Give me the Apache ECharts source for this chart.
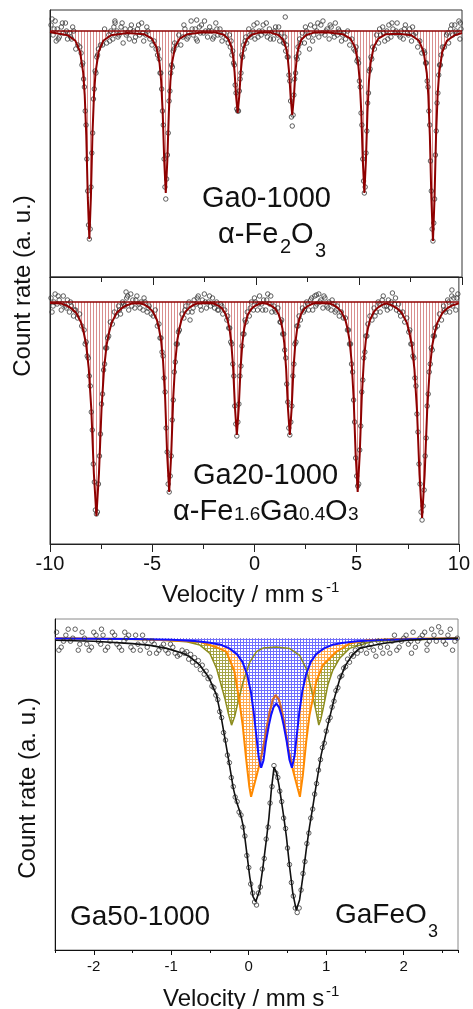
<!DOCTYPE html>
<html><head><meta charset="utf-8">
<script src="https://cdn.jsdelivr.net/npm/echarts@6/dist/echarts.min.js"></script>
<style>html,body{margin:0;padding:0;background:#fff}#c{width:473px;height:1009px}</style>
</head><body><div id="c"></div>
<script>
// ---------- Ga0-1000 (alpha-Fe2O3) : measured points [velocity, relative transmission %]
const ga0Data = [[-9.95,100.3],[-9.85,99.8],[-9.75,100.5],[-9.65,100.1],[-9.55,99.7],[-9.45,100.2],[-9.35,99.9],[-9.25,100.4],[-9.15,99.6],[-9.05,99.9],[-8.95,99.6],[-8.85,100.0],[-8.75,99.1],[-8.65,99.3],[-8.55,99.2],
[-8.49,98.9],[-8.45,98.3],[-8.41,98.4],[-8.37,97.6],[-8.33,97.2],[-8.29,96.0],[-8.25,95.3],[-8.21,93.6],[-8.17,92.0],[-8.13,90.3],[-8.09,89.6],[-8.05,90.1],[-8.01,92.2],[-7.97,93.9],[-7.93,94.9],[-7.89,96.6],[-7.85,97.1],[-7.81,98.0],[-7.77,97.9],[-7.73,98.7],[-7.69,98.8],
[-7.65,99.1],[-7.55,99.3],[-7.45,99.3],[-7.35,100.1],[-7.25,99.4],[-7.15,99.8],[-7.05,100.0],[-6.95,99.6],[-6.85,100.5],[-6.75,100.0],[-6.65,99.8],[-6.55,100.2],[-6.45,99.4],[-6.35,100.1],[-6.25,99.9],[-6.15,99.6],[-6.05,100.3],[-5.95,100.0],[-5.85,99.7],[-5.75,100.1],[-5.65,99.8],[-5.55,100.4],[-5.45,99.5],[-5.35,99.8],[-5.25,100.0],[-5.15,99.6],[-5.05,99.3],[-4.95,99.5],[-4.85,99.1],
[-4.78,98.8],[-4.74,99.1],[-4.70,98.6],[-4.66,97.9],[-4.62,97.9],[-4.58,97.1],[-4.54,96.0],[-4.50,95.3],[-4.46,93.6],[-4.42,92.2],[-4.38,91.6],[-4.34,92.6],[-4.30,93.8],[-4.26,94.9],[-4.22,96.5],[-4.18,97.0],[-4.14,97.9],[-4.10,98.3],[-4.06,98.2],[-4.02,99.0],[-3.98,99.1],
[-3.95,99.4],[-3.85,99.3],[-3.75,99.8],[-3.65,99.3],[-3.55,99.7],[-3.45,100.1],[-3.35,99.6],[-3.25,99.9],[-3.15,100.5],[-3.05,99.8],[-2.95,100.1],[-2.85,99.5],[-2.75,100.2],[-2.65,100.3],[-2.55,99.9],[-2.45,100.0],[-2.35,99.7],[-2.25,100.2],[-2.15,100.0],[-2.05,99.7],[-1.95,100.4],[-1.85,99.8],[-1.75,100.1],[-1.65,99.5],[-1.55,99.9],[-1.45,99.6],[-1.35,99.4],
[-1.29,99.8],[-1.25,99.2],[-1.21,99.5],[-1.17,98.8],[-1.13,99.0],[-1.09,98.4],[-1.05,98.3],[-1.01,97.3],[-0.97,96.9],[-0.93,96.1],[-0.89,96.0],[-0.85,96.0],[-0.81,97.0],[-0.77,97.6],[-0.73,97.9],[-0.69,98.8],[-0.65,98.7],[-0.61,99.3],[-0.57,99.1],[-0.53,99.5],[-0.49,99.7],
[-0.45,99.4],[-0.35,100.1],[-0.25,99.7],[-0.15,100.0],[-0.05,99.6],[0.05,100.4],[0.15,100.0],[0.25,99.8],[0.35,100.3],[0.45,99.9],[0.55,99.7],[0.65,100.1],[0.75,99.9],[0.85,99.6],[0.95,100.2],[1.05,99.8],[1.15,99.5],[1.25,99.9],[1.35,99.4],
[1.36,99.4],[1.40,99.7],[1.44,99.0],[1.48,99.3],[1.52,98.7],[1.56,98.7],[1.60,97.8],[1.64,97.5],[1.68,96.5],[1.72,95.7],[1.76,95.25],[1.80,95.8],[1.84,96.8],[1.88,97.6],[1.92,97.9],[1.96,98.7],[2.00,98.6],[2.04,99.2],[2.08,98.9],[2.12,99.6],[2.16,99.4],
[2.25,99.9],[2.35,99.4],[2.45,100.0],[2.55,99.7],[2.65,100.3],[2.75,99.5],[2.85,100.2],[2.95,100.0],[3.05,99.7],[3.15,100.3],[3.25,100.5],[3.35,99.8],[3.45,100.1],[3.55,99.6],[3.65,100.2],[3.75,99.9],[3.85,100.4],[3.95,99.8],[4.05,100.0],[4.15,99.5],[4.25,99.9],[4.35,99.6],[4.45,100.0],[4.55,99.3],[4.65,99.6],[4.75,99.1],[4.82,99.0],
[4.86,99.2],[4.90,98.5],[4.94,98.6],[4.98,98.4],[5.02,97.5],[5.06,97.2],[5.10,95.9],[5.14,95.3],[5.18,93.6],[5.22,92.5],[5.26,91.9],[5.30,92.2],[5.34,93.9],[5.38,95.0],[5.42,96.4],[5.46,96.9],[5.50,98.0],[5.54,98.1],[5.58,98.7],[5.62,98.6],[5.66,99.2],
[5.75,99.1],[5.85,99.8],[5.95,99.4],[6.05,99.8],[6.15,100.2],[6.25,99.5],[6.35,100.0],[6.45,100.3],[6.55,99.7],[6.65,100.1],[6.75,99.9],[6.85,100.4],[6.95,99.8],[7.05,100.0],[7.15,99.6],[7.25,100.3],[7.35,99.9],[7.45,100.1],[7.55,99.5],[7.65,99.8],[7.75,99.9],[7.85,99.2],[7.95,99.5],[8.05,98.9],[8.15,99.0],
[8.19,98.9],[8.23,98.4],[8.27,98.4],[8.31,97.5],[8.35,97.2],[8.39,96.0],[8.43,95.3],[8.47,93.5],[8.51,92.0],[8.55,90.1],[8.59,89.5],[8.63,90.4],[8.67,91.6],[8.71,93.8],[8.75,95.0],[8.79,96.4],[8.83,96.9],[8.87,97.8],[8.91,98.3],[8.95,98.3],[8.99,98.8],
[9.05,99.2],[9.15,99.2],[9.25,99.8],[9.35,99.4],[9.45,100.1],[9.55,99.8],[9.65,100.3],[9.75,99.9],[9.85,100.5],[9.95,100.1],
[1.42,100.7],[2.6,99.1],[-9.9,100.6],[-9.7,99.5],[9.9,99.6],[-2.88,100.55],[-6.84,100.4],
[-9.8,100.1],[-9.6,99.6],[-9.4,100.4],[-9.2,100.0],[-9.0,99.7],[-8.9,100.2],
[-7.1,99.5],[-6.9,100.2],[-6.7,99.7],[-6.5,100.4],[-6.3,99.8],[-6.1,100.1],[-5.9,99.5],[-5.7,100.3],[-5.5,99.9],[-5.3,100.2],
[-3.5,100.3],[-3.3,99.7],[-3.1,100.1],[-2.9,99.6],[-2.7,99.9],[-2.5,100.5],[-2.3,100.0],[-2.1,99.6],[-1.9,100.1],[-1.7,99.8],
[-0.3,99.8],[-0.1,100.3],[0.1,99.7],[0.3,100.0],[0.5,100.4],[0.7,99.6],[0.9,100.0],[1.1,100.2],
[2.4,100.2],[2.8,99.8],[3.0,100.4],[3.2,99.9],[3.4,100.0],[3.6,100.3],[3.8,99.7],[4.0,100.1],[4.2,99.8],
[6.0,100.1],[6.2,99.9],[6.4,99.6],[6.6,100.4],[6.8,100.0],[7.0,99.7],[7.2,100.1],[7.4,99.8],[7.6,100.2],
[9.3,99.9],[9.5,100.3],[9.7,100.0],[9.92,100.4]];

// fitted sextet envelope, Ga0-1000
const ga0Fit = [[-10,99.95],[-9.89,99.93],[-9.14,99.79],[-8.765,99.51],[-8.54,98.96],[-8.39,97.92],[-8.315,96.8],[-8.24,94.8],[-8.165,91.68],[-8.09,89.6],[-8.015,91.68],[-7.94,94.8],[-7.865,96.8],[-7.79,97.92],[-7.64,98.96],[-7.415,99.51],[-7.04,99.79],
[-6.24,99.9],
[-5.43,99.84],[-5.055,99.62],[-4.83,99.19],[-4.68,98.38],[-4.605,97.5],[-4.53,95.95],[-4.455,93.52],[-4.38,91.9],[-4.305,93.52],[-4.23,95.95],[-4.155,97.5],[-4.08,98.38],[-3.93,99.19],[-3.705,99.62],[-3.33,99.84],
[-2.64,99.92],
[-1.94,99.92],[-1.565,99.81],[-1.34,99.59],[-1.19,99.18],[-1.115,98.74],[-1.04,97.95],[-0.965,96.72],[-0.89,95.9],[-0.815,96.72],[-0.74,97.95],[-0.665,98.74],[-0.59,99.18],[-0.44,99.59],[-0.215,99.81],[0.16,99.92],
[0.44,99.93],
[0.71,99.92],[1.085,99.8],[1.31,99.58],[1.46,99.16],[1.535,98.71],[1.61,97.9],[1.685,96.64],[1.76,95.8],[1.835,96.64],[1.91,97.9],[1.985,98.71],[2.06,99.16],[2.21,99.58],[2.435,99.8],[2.81,99.92],
[3.51,99.92],
[4.21,99.84],[4.585,99.62],[4.81,99.19],[4.96,98.38],[5.035,97.5],[5.11,95.95],[5.185,93.52],[5.26,91.9],[5.335,93.52],[5.41,95.95],[5.485,97.5],[5.56,98.38],[5.71,99.19],[5.935,99.62],[6.31,99.84],
[6.93,99.86],
[7.54,99.79],[7.915,99.51],[8.14,98.95],[8.29,97.9],[8.365,96.77],[8.44,94.75],[8.515,91.6],[8.59,89.5],[8.665,91.6],[8.74,94.75],[8.815,96.77],[8.89,97.9],[9.04,98.95],[9.265,99.51],[9.64,99.79],[10,99.9]];

// ---------- Ga20-1000 (alpha-Fe1.6Ga0.4O3)
const ga20Data = [[-9.95,100.2],[-9.85,99.8],[-9.75,100.4],[-9.65,99.9],[-9.55,100.1],[-9.45,99.6],[-9.35,100.3],[-9.25,99.8],[-9.15,100.1],[-9.05,99.5],[-8.95,99.8],[-8.85,99.3],[-8.75,99.6],[-8.65,99.2],[-8.55,99.4],[-8.45,98.8],
[-8.33,98.6],[-8.28,97.9],[-8.23,98.0],[-8.18,97.3],[-8.13,97.2],[-8.08,96.3],[-8.03,95.8],[-7.98,94.5],[-7.93,93.6],[-7.88,91.9],[-7.83,91.0],[-7.78,89.6],[-7.73,89.4],[-7.68,89.5],[-7.63,90.9],[-7.58,92.3],[-7.53,93.4],[-7.48,94.9],[-7.43,95.4],[-7.38,96.6],[-7.33,96.9],[-7.28,97.7],[-7.23,97.7],[-7.18,98.2],[-7.13,98.3],
[-7.05,99.0],[-6.95,98.9],[-6.85,99.5],[-6.75,99.3],[-6.65,99.8],[-6.55,99.4],[-6.45,100.0],[-6.35,99.8],[-6.25,100.2],[-6.15,99.6],[-6.05,100.4],[-5.95,100.1],[-5.85,99.7],[-5.75,100.3],[-5.65,99.9],[-5.55,100.0],[-5.45,99.6],[-5.35,100.0],[-5.25,99.5],[-5.15,99.8],[-5.05,99.4],[-4.95,99.3],[-4.85,99.6],[-4.75,98.8],
[-4.67,98.9],[-4.62,98.2],[-4.57,98.2],[-4.52,97.5],[-4.47,97.3],[-4.42,96.2],[-4.37,95.5],[-4.32,93.7],[-4.27,92.5],[-4.22,90.9],[-4.17,90.5],[-4.12,91.3],[-4.07,92.3],[-4.02,94.1],[-3.97,95.1],[-3.92,96.5],[-3.87,97.0],[-3.82,97.9],[-3.77,97.9],[-3.72,98.5],[-3.67,98.6],
[-3.55,99.4],[-3.45,99.2],[-3.35,99.8],[-3.25,99.5],[-3.15,99.1],[-3.05,99.5],[-2.95,100.1],[-2.85,99.9],[-2.75,100.3],[-2.65,99.8],[-2.55,100.1],[-2.45,100.4],[-2.35,99.7],[-2.25,100.0],[-2.15,99.8],[-2.05,100.2],[-1.95,99.7],[-1.85,100.0],[-1.75,99.6],[-1.65,99.9],[-1.55,99.4],[-1.45,99.6],[-1.35,99.1],
[-1.31,99.3],[-1.26,98.7],[-1.21,98.7],[-1.16,98.0],[-1.11,97.9],[-1.06,96.9],[-1.01,96.3],[-0.96,94.8],[-0.91,93.9],[-0.86,93.3],[-0.81,94.0],[-0.76,94.9],[-0.71,96.3],[-0.66,96.8],[-0.61,97.8],[-0.56,98.4],[-0.51,98.4],[-0.46,99.1],[-0.41,99.0],
[-0.35,99.5],[-0.25,99.3],[-0.15,100.0],[-0.05,99.6],[0.05,100.0],[0.15,99.6],[0.25,100.3],[0.35,99.9],[0.45,100.1],[0.55,99.6],[0.65,100.4],[0.75,99.9],[0.85,99.5],[0.95,99.8],[1.05,99.5],[1.15,99.7],[1.25,99.0],
[1.28,99.0],[1.33,99.1],[1.38,98.4],[1.43,98.4],[1.48,97.6],[1.53,97.2],[1.58,95.9],[1.63,95.0],[1.68,93.7],[1.73,93.35],[1.78,94.0],[1.83,94.8],[1.88,96.3],[1.93,96.9],[1.98,97.9],[2.03,98.0],[2.08,98.8],[2.13,98.8],[2.18,99.3],
[2.25,99.1],[2.35,99.7],[2.45,99.6],[2.55,100.0],[2.65,99.6],[2.75,100.1],[2.85,99.6],[2.95,100.3],[3.05,99.9],[3.15,100.4],[3.25,100.1],[3.35,99.7],[3.45,100.2],[3.55,99.8],[3.65,100.0],[3.75,99.6],[3.85,99.9],[3.95,99.5],[4.05,99.8],[4.15,99.3],[4.25,99.5],[4.35,99.2],[4.45,99.2],
[4.55,98.6],[4.60,98.6],[4.65,97.9],[4.70,97.9],[4.75,96.9],[4.80,96.5],[4.85,95.1],[4.90,94.0],[4.95,92.2],[5.00,91.3],[5.05,90.8],[5.10,90.9],[5.15,92.6],[5.20,93.8],[5.25,95.5],[5.30,96.1],[5.35,97.2],[5.40,97.5],[5.45,98.3],[5.50,98.3],[5.55,98.9],
[5.65,99.3],[5.75,99.1],[5.85,99.7],[5.95,99.5],[6.05,100.0],[6.15,99.5],[6.25,100.1],[6.35,99.8],[6.45,99.8],[6.55,100.1],[6.65,99.7],[6.75,100.45],[6.85,99.9],[6.95,99.6],[7.05,99.9],[7.15,99.3],[7.25,99.5],[7.35,99.0],[7.45,99.2],[7.55,98.5],
[7.60,98.6],[7.65,97.9],[7.70,97.9],[7.75,97.3],[7.80,97.2],[7.85,96.2],[7.90,95.8],[7.95,94.4],[8.00,93.5],[8.05,91.9],[8.10,90.9],[8.15,89.5],[8.20,89.1],[8.25,89.8],[8.30,90.6],[8.35,92.3],[8.40,93.2],[8.45,94.8],[8.50,95.4],[8.55,96.5],[8.60,96.9],[8.65,97.7],[8.70,97.6],[8.75,98.3],[8.80,98.3],
[8.85,98.7],[8.95,98.8],[9.05,99.4],[9.15,99.1],[9.25,99.8],[9.35,99.5],[9.45,100.1],[9.55,99.5],[9.65,100.3],[9.75,100.2],[9.85,99.6],[9.95,100.4],
[-6.28,100.5],[9.66,100.6],[-9.9,99.5],[3.03,100.35],
[-9.8,100.0],[-9.6,100.3],[-9.4,99.9],[-9.2,99.7],[-9.0,100.0],[-8.8,99.6],
[-6.6,99.6],[-6.4,99.9],[-6.2,100.3],[-6.0,99.8],[-5.8,100.1],[-5.6,99.7],[-5.4,100.2],[-5.2,99.7],
[-3.4,99.6],[-3.2,100.0],[-3.0,99.7],[-2.8,100.2],[-2.6,99.6],[-2.4,100.0],[-2.2,100.3],[-2.0,99.9],[-1.8,99.6],[-1.6,99.8],
[-0.2,99.7],[0.0,100.2],[0.2,99.9],[0.4,99.6],[0.6,100.1],[0.8,100.3],[1.0,99.6],
[2.4,99.5],[2.6,99.9],[2.8,100.2],[3.0,99.8],[3.2,100.0],[3.4,100.3],[3.6,99.7],[3.8,100.1],[4.0,99.6],
[5.9,99.3],[6.1,99.9],[6.3,100.3],[6.5,99.6],[6.7,100.0],[6.9,100.2],[7.1,99.5],
[9.3,99.6],[9.5,100.0],[9.7,99.8],[9.9,100.2]];

const ga20Fit = [[-10,99.95],[-9.48,99.93],[-9.23,99.84],[-8.98,99.7],[-8.73,99.46],[-8.48,98.98],[-8.355,98.5],[-8.23,97.86],[-8.105,96.68],[-7.98,94.65],[-7.855,91.44],[-7.73,89.3],[-7.605,91.44],[-7.48,94.65],[-7.355,96.68],[-7.23,97.86],[-7.105,98.5],[-6.98,98.98],[-6.73,99.46],[-6.48,99.7],[-6.23,99.84],[-5.98,99.93],
[-5.57,99.93],[-5.37,99.86],[-5.17,99.73],[-4.97,99.52],[-4.77,99.1],[-4.67,98.67],[-4.57,98.1],[-4.47,97.05],[-4.37,95.25],[-4.27,92.4],[-4.17,90.5],[-4.07,92.4],[-3.97,95.25],[-3.87,97.05],[-3.77,98.1],[-3.67,98.67],[-3.57,99.1],[-3.37,99.52],[-3.17,99.73],[-2.97,99.86],[-2.77,99.93],
[-2.12,99.95],[-1.94,99.9],[-1.76,99.81],[-1.58,99.67],[-1.4,99.37],[-1.31,99.07],[-1.22,98.67],[-1.13,97.94],[-1.04,96.67],[-0.95,94.68],[-0.86,93.35],[-0.77,94.68],[-0.68,96.67],[-0.59,97.94],[-0.5,98.67],[-0.41,99.07],[-0.32,99.37],[-0.14,99.67],[0.04,99.81],[0.22,99.9],[0.4,99.95],
[0.47,99.95],[0.65,99.9],[0.83,99.81],[1.01,99.67],[1.19,99.37],[1.28,99.07],[1.37,98.67],[1.46,97.94],[1.55,96.67],[1.64,94.68],[1.73,93.35],[1.82,94.68],[1.91,96.67],[2.0,97.94],[2.09,98.67],[2.18,99.07],[2.27,99.37],[2.45,99.67],[2.63,99.81],[2.81,99.9],[2.99,99.95],
[3.65,99.93],[3.85,99.86],[4.05,99.73],[4.25,99.52],[4.45,99.1],[4.55,98.67],[4.65,98.1],[4.75,97.05],[4.85,95.25],[4.95,92.4],[5.05,90.5],[5.15,92.4],[5.25,95.25],[5.35,97.05],[5.45,98.1],[5.55,98.67],[5.65,99.1],[5.85,99.52],[6.05,99.73],[6.25,99.86],[6.45,99.93],
[6.7,99.84],[6.95,99.7],[7.2,99.46],[7.45,98.97],[7.575,98.49],[7.7,97.84],[7.825,96.65],[7.95,94.6],[8.075,91.36],[8.2,89.2],[8.325,91.36],[8.45,94.6],[8.575,96.65],[8.7,97.84],[8.825,98.49],[8.95,98.97],[9.2,99.46],[9.45,99.7],[9.7,99.84],[10,99.93]];

// ---------- Ga50-1000 (GaFeO3)
const ga50Data = [[-2.48,100.2],[-2.42,99.7],[-2.36,100.1],[-2.30,99.9],[-2.24,100.3],[-2.18,99.8],[-2.12,100.0],[-2.06,99.6],[-2.00,100.2],[-1.94,99.9],[-1.88,100.1],[-1.82,99.7],[-1.76,100.2],[-1.70,99.8],[-1.64,99.6],[-1.58,100.0],[-1.52,99.7],[-1.46,100.1],[-1.40,99.6],[-1.34,99.9],[-1.28,99.5],[-1.22,99.8],[-1.16,99.6],[-1.10,99.8],[-1.04,99.5],[-0.98,99.7],[-0.92,99.4],[-0.86,99.6],
[-2.39,99.9],[-2.27,100.0],[-2.15,100.2],[-2.09,99.8],[-2.03,99.7],[-1.97,100.1],[-1.91,99.8],[-1.85,99.6],[-1.79,99.9],[-1.73,100.1],[-1.67,99.7],[-1.61,99.9],[-1.55,100.1],[-1.49,99.6],[-1.43,99.8],[-1.37,100.1],[-1.31,99.7],[-1.25,99.9],[-1.19,99.5],[-1.13,99.7],[-1.07,99.6],[-1.01,99.8],[-0.95,99.5],[-0.89,99.45],[-0.83,99.5],
[-0.800,99.55],[-0.775,99.3],[-0.750,99.46],[-0.725,99.2],[-0.700,99.35],[-0.675,99.1],[-0.650,99.25],[-0.625,98.95],[-0.600,99.1],[-0.575,98.8],[-0.550,98.9],[-0.525,98.65],[-0.500,98.7],[-0.475,98.4],[-0.450,98.35],[-0.425,98.1],[-0.400,97.95],[-0.375,97.55],[-0.350,97.35],[-0.325,96.85],[-0.300,96.6],[-0.275,96.1],[-0.250,95.85],[-0.225,95.35],[-0.200,95.05],[-0.175,94.7],[-0.150,94.55],[-0.125,94.2],[-0.100,94.1],[-0.075,93.7],[-0.050,93.4],[-0.025,92.75],[0.000,92.35],[0.025,91.8],[0.050,91.5],[0.075,91.2],[0.100,91.1],[0.125,91.5],[0.150,91.7],[0.175,92.3],[0.200,92.65],[0.225,93.3],[0.250,93.7],[0.275,94.5],[0.300,95.05],[0.325,95.75],[0.350,95.5],[0.375,95.35],[0.400,94.9],[0.425,94.55],[0.450,94.0],[0.475,93.65],[0.500,93.0],[0.525,92.45],[0.550,91.85],[0.575,91.4],[0.600,91.0],[0.625,90.85],[0.650,91.0],[0.675,91.6],[0.700,92.15],[0.725,92.55],[0.750,93.15],[0.775,93.5],[0.800,94.0],[0.825,94.3],[0.850,94.8],[0.875,95.15],[0.900,95.6],[0.925,95.95],[0.950,96.35],[0.975,96.5],[1.000,96.9],[1.025,97.25],[1.050,97.35],[1.075,97.7],[1.100,97.9],[1.125,98.25],[1.150,98.35],[1.175,98.7],[1.200,98.75],[1.225,99.0],[1.250,99.05],[1.275,99.3],[1.300,99.2],[1.325,99.45],[1.350,99.4],[1.375,99.6],[1.400,99.5],[1.425,99.75],[1.450,99.6],[1.475,99.8],
[1.52,99.5],[1.58,99.8],[1.64,99.4],[1.70,99.7],[1.76,99.9],[1.82,99.5],[1.88,100.1],[1.94,99.7],[2.00,100.0],[2.06,99.8],[2.12,100.2],[2.18,99.9],[2.24,100.1],[2.30,99.8],[2.36,100.3],[2.42,99.9],[2.48,100.2],[2.54,99.8],[2.60,100.3],[2.66,99.9],
[1.55,99.7],[1.61,99.6],[1.67,99.9],[1.73,99.5],[1.79,99.7],[1.85,99.9],[1.91,99.6],[1.97,99.9],[2.03,100.1],[2.09,99.9],[2.15,99.7],[2.21,100.0],[2.27,100.2],[2.33,99.9],[2.39,100.1],[2.51,99.9],[2.57,100.1],[2.69,100.0],
[-2.45,99.6],[-2.33,100.3],[-2.2,99.6],[-1.9,100.3],[-1.6,100.2],[2.1,99.5],[2.45,100.38],[2.3,99.6],[2.63,99.6]];

const ga50Total = [[-2.5,99.93],[-2.0,99.9],[-1.5,99.82],[-1.27,99.76],[-1.06,99.66],[-0.85,99.5],[-0.76,99.38],[-0.63,99.1],[-0.544,98.8],[-0.5,98.6],[-0.415,98.1],[-0.351,97.3],[-0.287,96.35],[-0.244,95.7],[-0.2,95.0],[-0.158,94.55],[-0.12,94.25],[-0.094,94.0],[-0.073,93.75],[-0.05,93.35],[-0.03,92.93],[0.013,92.04],[0.055,91.38],[0.09,91.21],[0.141,91.6],[0.184,92.38],[0.227,93.27],[0.26,94.0],[0.29,94.9],[0.326,95.7],[0.36,95.5],[0.39,95.1],[0.42,94.6],[0.454,94.0],[0.485,93.4],[0.527,92.38],[0.569,91.49],[0.613,90.93],[0.656,91.27],[0.698,92.04],[0.741,92.93],[0.784,93.71],[0.827,94.38],[0.87,95.1],[0.934,96.1],[1.02,97.1],[1.105,98.0],[1.17,98.6],[1.25,99.1],[1.34,99.45],[1.43,99.66],[1.533,99.72],[1.748,99.83],[2.05,99.93],[2.39,99.98],[2.7,100.0]];

const ga50Blue = [[-2.5,99.99],[-1.5,99.97],[-1.0,99.95],[-0.7,99.91],[-0.5,99.85],[-0.35,99.77],[-0.25,99.66],[-0.15,99.46],[-0.08,99.2],[-0.02,98.78],[0.03,98.17],[0.07,97.4],[0.10,96.68],[0.13,96.0],[0.16,95.68],[0.19,95.92],[0.22,96.52],[0.26,97.1],[0.29,97.45],[0.32,97.7],[0.356,97.82],[0.39,97.7],[0.42,97.45],[0.45,97.1],[0.49,96.55],[0.525,95.95],[0.557,95.68],[0.59,96.06],[0.62,96.76],[0.65,97.47],[0.69,98.21],[0.74,98.8],[0.80,99.21],[0.87,99.47],[0.97,99.66],[1.07,99.77],[1.2,99.84],[1.4,99.9],[1.7,99.94],[2.2,99.97],[2.7,99.98]];

const ga50Orange = [[-2.5,100],[-1.5,99.97],[-1.06,99.93],[-0.63,99.88],[-0.42,99.7],[-0.29,99.55],[-0.185,98.89],[-0.12,97.88],[-0.078,97.09],[-0.034,95.98],[0.008,95.03],[0.03,94.71],[0.08,95.2],[0.13,95.7],[0.184,96.32],[0.23,97.0],[0.27,97.55],[0.31,97.95],[0.347,98.1],[0.39,97.95],[0.43,97.55],[0.47,97.0],[0.51,96.32],[0.56,95.7],[0.61,95.2],[0.66,94.71],[0.698,95.43],[0.741,96.54],[0.784,97.43],[0.87,98.54],[0.955,99.1],[1.127,99.54],[1.3,99.82],[1.53,99.93],[2.0,99.98],[2.7,100]];

const ga50Olive = [[-2.5,100],[-1.2,99.95],[-0.8,99.88],[-0.63,99.77],[-0.501,99.49],[-0.415,98.99],[-0.308,97.99],[-0.26,97.45],[-0.222,97.1],[-0.18,97.4],[-0.137,97.88],[-0.073,98.54],[0.013,99.2],[0.1,99.55],[0.184,99.67],[0.356,99.71],[0.527,99.66],[0.656,99.43],[0.741,98.99],[0.805,98.32],[0.87,97.54],[0.904,97.1],[0.93,97.3],[0.96,97.65],[1.02,98.43],[1.084,98.93],[1.17,99.32],[1.3,99.66],[1.6,99.9],[2.7,100]];

const topTickLabels = ['-10','-5','0','5','10'];
const bottomMajorTicks = [-2, -1, 0, 1, 2];

const FONT = '"Liberation Sans", Arial, sans-serif';

function pattern(step, color, gridLines, bg) {
  const c = document.createElement('canvas');
  c.width = step; c.height = step;
  const g = c.getContext('2d');
  if (bg) { g.fillStyle = bg; g.fillRect(0, 0, step, step); }
  g.fillStyle = color;
  g.fillRect(0, 0, 1, step);
  if (gridLines) g.fillRect(1, 0, step - 1, 1);
  return { image: c, repeat: 'repeat' };
}
const hatchRed = pattern(3, 'rgba(180,30,30,0.5)', false);
const hatchBlue = pattern(3, 'rgb(110,110,255)', true, '#ffffff');
const hatchOrange = pattern(3, 'rgb(255,170,80)', true, '#ffffff');
const hatchOlive = pattern(3, 'rgb(165,165,70)', true, '#ffffff');

const chart = echarts.init(document.getElementById('c'), null, { renderer: 'canvas' });

function topX(idx, labels) {
  return {
    type: 'value', gridIndex: idx, min: -10, max: 10, interval: 5,
    axisLine: { show: true, onZero: false, lineStyle: { color: '#222', width: 1 } },
    axisTick: { show: true, length: 8, lineStyle: { color: '#222' } },
    minorTick: { show: true, splitNumber: 2, length: 5, lineStyle: { color: '#222' } },
    splitLine: { show: false }, minorSplitLine: { show: false },
    axisLabel: { show: labels, fontSize: 20, color: '#111', margin: 10, fontFamily: FONT,
      formatter: v => topTickLabels[Math.round((v + 10) / 5)] }
  };
}
function hiddenY(idx, min, max, color) {
  return { type: 'value', gridIndex: idx, min, max,
    axisLine: { show: true, onZero: false, lineStyle: { color: color || '#222' } }, axisTick: { show: false },
    axisLabel: { show: false }, splitLine: { show: false } };
}
const dotStyle = { color: 'rgba(0,0,0,0)', borderColor: '#3a3a3a', borderWidth: 1 };

function txt(text, x, y, size, extra) {
  return Object.assign({ type: 'text', x, y, silent: true,
    style: { text, font: size + 'px ' + FONT, fill: '#111', textAlign: 'left', textVerticalAlign: 'middle', align: 'left', verticalAlign: 'middle' } }, extra || {});
}
function vtxt(text, x, y) {
  return { type: 'text', x, y, silent: true, rotation: Math.PI / 2,
    style: { text, font: '24px ' + FONT, fill: '#111', textAlign: 'center', textVerticalAlign: 'middle', align: 'center', verticalAlign: 'middle' } };
}

const g50 = { xAxisIndex: 2, yAxisIndex: 2, showSymbol: false, silent: true, type: 'line' };

const option = {
  animation: false,
  backgroundColor: '#fff',
  grid: [
    { left: 50, top: 10, width: 412, height: 267, show: true, borderColor: '#333', borderWidth: 1 },
    { left: 50, top: 277, width: 412, height: 267, show: true, borderColor: '#333', borderWidth: 1 },
    { left: 55, top: 619, width: 403, height: 331, show: true, borderColor: '#8a8a8a', borderWidth: 1 }
  ],
  xAxis: [
    topX(0, false),
    topX(1, true),
    { type: 'value', gridIndex: 2, min: -2.5, max: 2.7, interval: 0.5,
      axisLine: { show: true, onZero: false, lineStyle: { color: '#111' } },
      axisTick: { show: true, length: 3, lineStyle: { color: '#111' } },
      splitLine: { show: false },
      axisLabel: { fontSize: 15, color: '#111', margin: 9, fontFamily: FONT,
        formatter: v => (Math.abs(v - Math.round(v)) < 1e-6 ? String(Math.round(v)) : '') } },
    { type: 'value', gridIndex: 2, min: -2.5, max: 2.7, position: 'bottom',
      axisLine: { show: false, onZero: false },
      axisTick: { show: true, length: 5, customValues: bottomMajorTicks, lineStyle: { color: '#111' } },
      axisLabel: { show: false }, splitLine: { show: false } }
  ],
  yAxis: [
    hiddenY(0, 87.7, 101.05),
    hiddenY(1, 87.9, 101.25),
    hiddenY(2, 89.6, 100.64, '#111')
  ],
  series: [
    // Ga0-1000
    { type: 'line', xAxisIndex: 0, yAxisIndex: 0, data: ga0Fit, showSymbol: false, silent: true, z: 1,
      lineStyle: { width: 0, opacity: 0 }, areaStyle: { origin: 100, color: hatchRed, opacity: 1 } },
    { type: 'scatter', xAxisIndex: 0, yAxisIndex: 0, data: ga0Data, symbol: 'circle', symbolSize: 4.5, itemStyle: dotStyle, z: 2, silent: true },
    { type: 'line', xAxisIndex: 0, yAxisIndex: 0, data: ga0Fit, showSymbol: false, silent: true, z: 3,
      lineStyle: { color: '#8e0000', width: 2 },
      markLine: { silent: true, symbol: 'none', label: { show: false }, lineStyle: { color: '#8e0000', width: 1.5, type: 'solid' }, data: [{ yAxis: 100 }] } },
    // Ga20-1000
    { type: 'line', xAxisIndex: 1, yAxisIndex: 1, data: ga20Fit, showSymbol: false, silent: true, z: 1,
      lineStyle: { width: 0, opacity: 0 }, areaStyle: { origin: 100, color: hatchRed, opacity: 1 } },
    { type: 'scatter', xAxisIndex: 1, yAxisIndex: 1, data: ga20Data, symbol: 'circle', symbolSize: 4.5, itemStyle: dotStyle, z: 2, silent: true },
    { type: 'line', xAxisIndex: 1, yAxisIndex: 1, data: ga20Fit, showSymbol: false, silent: true, z: 3,
      lineStyle: { color: '#8e0000', width: 2 },
      markLine: { silent: true, symbol: 'none', label: { show: false }, lineStyle: { color: '#8e0000', width: 1.5, type: 'solid' }, data: [{ yAxis: 100 }] } },
    // Ga50-1000 component areas
    Object.assign({}, g50, { data: ga50Olive, z: 1, lineStyle: { width: 0, opacity: 0 }, areaStyle: { origin: 100, color: hatchOlive, opacity: 1 } }),
    Object.assign({}, g50, { data: ga50Orange, z: 1, lineStyle: { width: 0, opacity: 0 }, areaStyle: { origin: 100, color: hatchOrange, opacity: 1 } }),
    Object.assign({}, g50, { data: ga50Blue, z: 1, lineStyle: { width: 0, opacity: 0 }, areaStyle: { origin: 100, color: hatchBlue, opacity: 1 } }),
    // component outlines
    Object.assign({}, g50, { data: ga50Olive, z: 2, lineStyle: { color: '#8c8c1e', width: 1.5 } }),
    Object.assign({}, g50, { data: ga50Orange, z: 2, lineStyle: { color: '#ff8a00', width: 2 } }),
    Object.assign({}, g50, { data: ga50Orange.filter(p => p[0] > 0.12 && p[0] < 0.57), z: 2, lineStyle: { color: '#c8623a', width: 1.5 } }),
    Object.assign({}, g50, { data: ga50Blue, z: 2, lineStyle: { color: '#1010ff', width: 2 } }),
    { type: 'scatter', xAxisIndex: 2, yAxisIndex: 2, data: ga50Data, symbol: 'circle', symbolSize: 4.5, itemStyle: dotStyle, z: 3, silent: true },
    Object.assign({}, g50, { data: ga50Total, z: 4, lineStyle: { color: '#111', width: 1.6 } })
  ],
  graphic: [
    vtxt('Count rate (a. u.)', 23, 286),
    vtxt('Count rate (a. u.)', 28, 788),
    txt('Velocity / mm s', 162, 595, 24),
    txt('-1', 326, 588, 15),
    txt('Velocity / mm s', 163, 999, 24),
    txt('-1', 326, 992, 15),
    txt('Ga0-1000', 202, 199, 29),
    txt('α-Fe', 218, 235, 29),
    txt('2', 280, 247, 20),
    txt('O', 291, 235, 29),
    txt('3', 315, 251, 20),
    txt('Ga20-1000', 193, 476, 29),
    txt('α-Fe', 173, 512, 29),
    txt('1.6', 234, 515, 19),
    txt('Ga', 260, 512, 29),
    txt('0.4', 299, 515, 19),
    txt('O', 325, 512, 29),
    txt('3', 348, 515, 19),
    txt('Ga50-1000', 70, 917, 28),
    txt('GaFeO', 335, 915, 28),
    txt('3', 428, 932, 18)
  ]
};
chart.setOption(option);
</script>
</body></html>
